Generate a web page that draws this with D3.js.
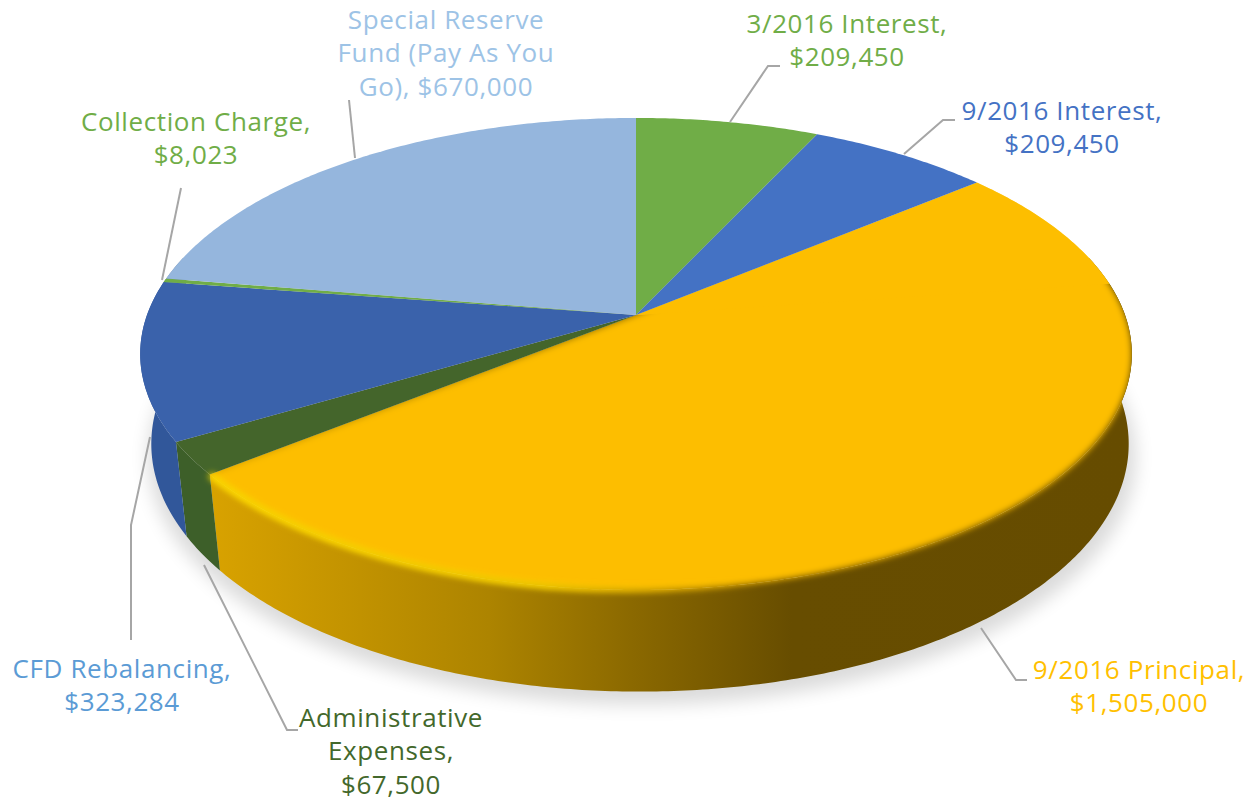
<!DOCTYPE html>
<html>
<head>
<meta charset="utf-8">
<script src="https://cdn.jsdelivr.net/npm/d3@7"></script>
<style>
  html, body { margin: 0; background: #fff; }
  svg { display: block; }
  text { font-family: "Open Sans", sans-serif; font-size: 26px; letter-spacing: 0.6px; text-anchor: middle; }
</style>
</head>
<body>
<svg id="chart" width="1255" height="802"></svg>
<script>
var categories = ["3/2016 Interest", "9/2016 Interest", "9/2016 Principal", "Administrative Expenses", "CFD Rebalancing", "Collection Charge", "Special Reserve Fund (Pay As You Go)"];
var values = [209450, 209450, 1505000, 67500, 323284, 8023, 670000];
var valueLabels = ["$209,450", "$209,450", "$1,505,000", "$67,500", "$323,284", "$8,023", "$670,000"];
var labelLines = [
  ["3/2016 Interest,", "$209,450"],
  ["9/2016 Interest,", "$209,450"],
  ["9/2016 Principal,", "$1,505,000"],
  ["Administrative", "Expenses,", "$67,500"],
  ["CFD Rebalancing,", "$323,284"],
  ["Collection Charge,", "$8,023"],
  ["Special Reserve", "Fund (Pay As You", "Go), $670,000"]
];
var topColors = ["#70ad47", "#4472c4", "#fdbe00", "#44652b", "#3a62ab", "#70ad47", "#95b6dd"];
var sideColors = ["#5a8a39", "#36599c", "url(#goldSide)", "#3d5f29", "#31579a", "#5a8a39", "#7791b0"];
var labelColors = ["#70ad47", "#4472c4", "#ffc000", "#43682b", "#5b9bd5", "#70ad47", "#9dc3e6"];

// layout
var labelCenters = [[847, 24], [1062, 111], [1139, 670], [391, 718], [122, 669], [196, 122], [446, 20]];
var lineGap = 33.2;
var leaders = [
  [[730, 122], [768, 66], [780, 66]],
  [[904, 154], [943, 120], [955, 120]],
  [[981, 628], [1016, 680], [1027, 680]],
  [[204, 565], [287, 730], [298, 730]],
  [[150, 437], [131, 525], [131, 640]],
  [[162, 280], [181, 188]],
  [[355, 158], [349, 100]]
];

// pie seen in perspective: k makes the near side bigger
var k = 0.165;
var topDisc = {cx: 636, cy: 315, a: 489, b: 229.6};
var baseDisc = {cx: 640, cy: 403, a: 482, b: 241};

function project(disc, angle) {
  var x = Math.sin(angle), y = -Math.cos(angle), w = 1 - k * y;
  return [disc.cx + disc.a * x / w, disc.cy + disc.b * y / w];
}
function arcPoints(disc, a0, a1) {
  var n = Math.max(2, Math.ceil(Math.abs(a1 - a0) / 0.01));
  return d3.range(n + 1).map(function(i) {
    return project(disc, a0 + (a1 - a0) * i / n);
  });
}

var svg = d3.select("#chart");
var line = d3.line();
var slices = d3.pie().sort(null).startAngle(0).endAngle(2 * Math.PI)(values);

function slicePath(d) {
  return line([[topDisc.cx, topDisc.cy]].concat(arcPoints(topDisc, d.startAngle, d.endAngle))) + "Z";
}
function wallPath(a0, a1) {
  return line(arcPoints(topDisc, a0, a1).concat(arcPoints(baseDisc, a1, a0))) + "Z";
}

var big = slices[2];
var wallFrom = 75 * Math.PI / 180, wallTo = 285 * Math.PI / 180;
var softFrom = 82 * Math.PI / 180;

var defs = svg.append("defs");
var gold = defs.append("linearGradient").attr("id", "goldSide")
  .attr("gradientUnits", "userSpaceOnUse")
  .attr("x1", 213).attr("y1", 0).attr("x2", 1132).attr("y2", 0);
[[0, "#d8a200"], [0.3, "#ad8400"], [0.46, "#8a6800"], [0.63, "#674d00"], [1, "#664c00"]].forEach(function(s) {
  gold.append("stop").attr("offset", s[0]).attr("stop-color", s[1]);
});
var shine = defs.append("linearGradient").attr("id", "rimShine")
  .attr("gradientUnits", "userSpaceOnUse")
  .attr("x1", 213).attr("y1", 0).attr("x2", 760).attr("y2", 0);
[[0, "#ffe000", 1], [0.6, "#ffdc00", 0.9], [1, "#ffc000", 0]].forEach(function(s) {
  shine.append("stop").attr("offset", s[0]).attr("stop-color", s[1]).attr("stop-opacity", s[2]);
});
defs.append("filter").attr("id", "soft").attr("x", "-10%").attr("y", "-10%").attr("width", "120%").attr("height", "120%")
  .append("feGaussianBlur").attr("stdDeviation", 3);
defs.append("filter").attr("id", "shadow").attr("x", "-10%").attr("y", "-10%").attr("width", "120%").attr("height", "120%")
  .append("feGaussianBlur").attr("stdDeviation", 9);
// the soft edge may only bleed on to the wall, never on to the white page
var softClip = defs.append("clipPath").attr("id", "softClip");
softClip.append("path").attr("d", slicePath(big));
softClip.append("path").attr("d", wallPath(big.startAngle > wallFrom ? big.startAngle : wallFrom, big.endAngle));

// drop shadow under the base
var shadowDisc = {cx: 642, cy: 416, a: 487, b: 241};
svg.append("path")
  .attr("d", line(arcPoints(shadowDisc, 0, 2 * Math.PI)) + "Z")
  .attr("fill", "#000").attr("opacity", 0.14).attr("filter", "url(#shadow)");

// side walls, only the part facing us
var walls = svg.append("g");
walls.selectAll("path")
  .data(slices.filter(function(d) { return d.endAngle > wallFrom && d.startAngle < wallTo; }))
  .enter().append("path")
  .attr("fill", function(d) { return sideColors[d.index]; })
  .attr("d", function(d) {
    return wallPath(Math.max(d.startAngle, wallFrom), Math.min(d.endAngle, wallTo));
  });

// top faces; the big slice gets a soft edge only where it meets its wall
var tops = svg.append("g");
tops.append("path")
  .attr("d", slicePath({startAngle: softFrom, endAngle: big.endAngle})).attr("fill", "url(#goldSide)");
tops.append("g").attr("clip-path", "url(#softClip)")
  .append("path")
  .attr("d", slicePath(big)).attr("fill", topColors[2]).attr("filter", "url(#soft)");
tops.append("path")
  .attr("d", slicePath({startAngle: big.startAngle, endAngle: softFrom})).attr("fill", topColors[2]);
tops.selectAll("path.flat")
  .data(slices.filter(function(d) { return d.index !== 2; }))
  .enter().append("path").attr("class", "flat")
  .attr("d", slicePath)
  .attr("fill", function(d) { return topColors[d.index]; });

// bevel highlight along the near rim
svg.append("path")
  .attr("d", line(arcPoints(topDisc, big.endAngle, big.endAngle - 1.5)))
  .attr("fill", "none").attr("stroke", "url(#rimShine)").attr("stroke-width", 6)
  .attr("filter", "url(#soft)");

svg.append("g").selectAll("path")
  .data(leaders)
  .enter().append("path")
  .attr("d", function(d) { return line(d); })
  .attr("fill", "none").attr("stroke", "#a6a6a6").attr("stroke-width", 2);

var labels = svg.append("g").selectAll("text")
  .data(labelLines)
  .enter().append("text")
  .attr("fill", function(d, i) { return labelColors[i]; })
  .attr("x", function(d, i) { return labelCenters[i][0]; })
  .attr("y", function(d, i) { return labelCenters[i][1]; });
labels.selectAll("tspan")
  .data(function(d, i) {
    return d.map(function(t, j) { return {text: t, x: labelCenters[i][0], y: labelCenters[i][1] + j * lineGap}; });
  })
  .enter().append("tspan")
  .attr("x", function(d) { return d.x; })
  .attr("y", function(d) { return d.y; })
  .attr("dy", "0.35em")
  .text(function(d) { return d.text; });
</script>
</body>
</html>
